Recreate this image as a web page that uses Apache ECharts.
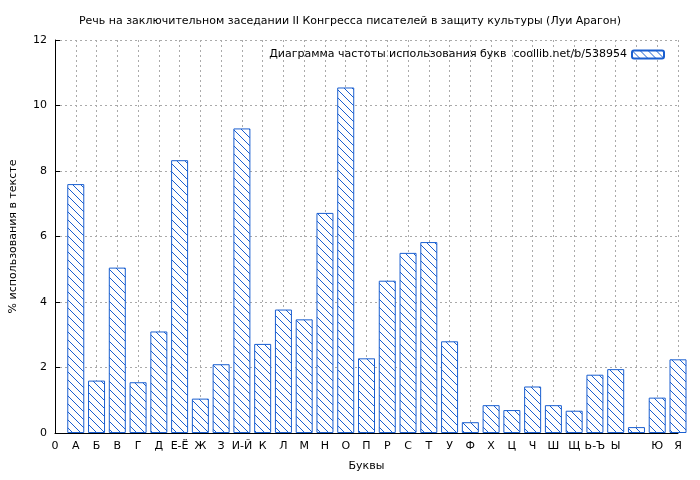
<!DOCTYPE html>
<html><head><meta charset="utf-8">
<script src="https://cdn.jsdelivr.net/npm/echarts@6/dist/echarts.min.js"></script>
<style>body{margin:0}#c{width:700px;height:480px}</style></head>
<body><div id="c"></div>
<script>
var letters = ['0','А','Б','В','Г','Д','Е-Ё','Ж','З','И-Й','К','Л','М','Н','О','П','Р','С','Т','У','Ф','Х','Ц','Ч','Ш','Щ','Ь-Ъ','Ы','','Ю','Я'];
var freq = [7.6,1.6,5.05,1.55,3.1,8.33,1.05,2.1,9.3,2.72,3.77,3.47,6.72,10.55,2.28,4.65,5.5,5.83,2.8,0.33,0.85,0.7,1.42,0.85,0.68,1.78,1.95,0.18,1.08,2.25];

// hatch pattern like gnuplot
var pc = document.createElement('canvas');
pc.width = 8; pc.height = 8;
var ctx = pc.getContext('2d');
ctx.fillStyle = '#fff'; ctx.fillRect(0,0,8,8);
ctx.strokeStyle = '#1a5fd0'; ctx.lineWidth = 1;
ctx.beginPath();
ctx.moveTo(-1,-1); ctx.lineTo(9,9);
ctx.moveTo(-5,3); ctx.lineTo(5,13);
ctx.moveTo(3,-5); ctx.lineTo(13,5);
ctx.stroke();
var hatch = {image: pc, repeat: 'repeat'};

var data = freq.map(function(v,i){ return [i+1, v]; });
var txt = {fontFamily:'DejaVu Sans', fontSize:11, color:'#000'};
var chart = echarts.init(document.getElementById('c'));
chart.setOption({
  animation:false,
  backgroundColor:'#fff',
  title:{text:'Речь на заключительном заседании II Конгресса писателей в защиту культуры (Луи Арагон)',
    left:'center', top:11, textStyle:{fontFamily:'DejaVu Sans', fontSize:11, fontWeight:'normal', color:'#000'}},
  legend:{right:30, top:44, itemWidth:32, itemHeight:8, itemGap:6, align:'right',
    textStyle:txt, data:['Диаграмма частоты использования букв  coollib.net/b/538954']},
  grid:{left:53, right:22, top:40, bottom:47},
  xAxis:{type:'value', min:0, max:30, interval:1,
    name:'Буквы', nameLocation:'middle', nameGap:28, nameTextStyle:txt,
    axisLine:{lineStyle:{color:'#000'}}, axisTick:{inside:true, lineStyle:{color:'#000'}},
    axisLabel:Object.assign({formatter:function(v){return letters[v];}}, txt),
    splitLine:{lineStyle:{color:'#aaa', type:[2,3]}}},
  yAxis:{type:'value', min:0, max:12, interval:2,
    name:'% использования в тексте', nameLocation:'middle', nameGap:36, nameTextStyle:txt,
    axisLine:{show:true, lineStyle:{color:'#000'}}, axisTick:{inside:true, lineStyle:{color:'#000'}},
    axisLabel:txt, splitLine:{lineStyle:{color:'#aaa', type:[2,3]}}},
  series:[{type:'bar', name:'Диаграмма частоты использования букв  coollib.net/b/538954',
    data:data, barWidth:17, clip:true,
    itemStyle:{color:hatch, borderColor:'#1a5fd0', borderWidth:1}}]
});
</script></body></html>
